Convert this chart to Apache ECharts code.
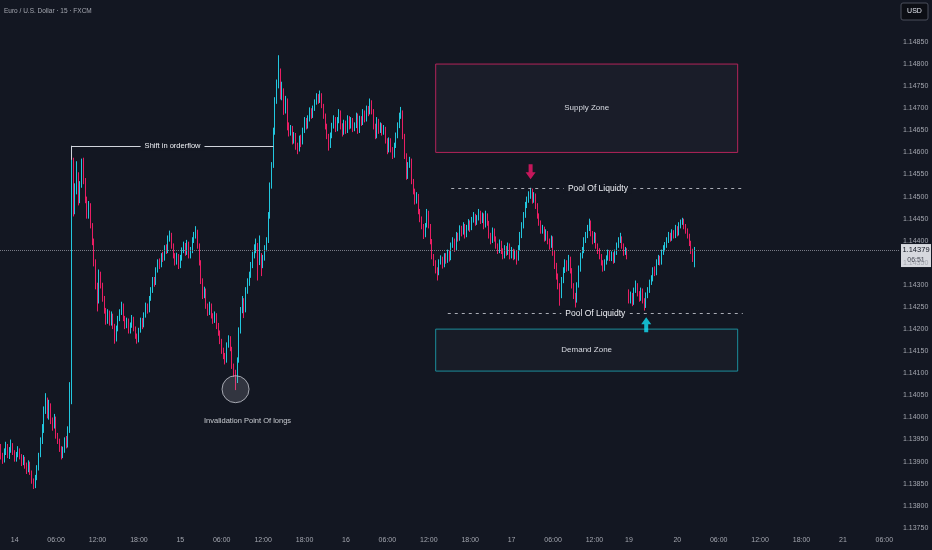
<!DOCTYPE html>
<html>
<head>
<meta charset="utf-8">
<script src="https://cdn.jsdelivr.net/npm/echarts@6/dist/echarts.min.js"></script>
<style>
html,body{margin:0;padding:0;background:#131722;}
#chart{width:932px;height:550px;}
</style>
</head>
<body>
<div id="chart"></div>
<script>
// ---------------- DATA (EUR/USD, 15 min, FXCM) ----------------
const title = 'Euro / U.S. Dollar · 15 · FXCM';
const firstOpen = 1.13925;      // open of the first visible candle
const sundayOpen = 1.14281;     // open of the first candle after the weekend gap
const countdown = '06:51';

const closes = [
1.13914,1.13903,1.13921,1.13932,1.13914,1.13925,1.13937,1.13921,1.13907,1.13914,
1.13925,1.13912,1.13898,1.13907,1.13891,1.13880,1.13896,1.13876,1.13857,1.13846,
1.13862,1.13885,1.13914,1.13948,1.13971,1.14016,1.14038,1.14005,1.14027,1.13993,
1.13982,1.13998,1.13959,1.13948,1.13930,1.13914,1.13925,1.13948,1.13937,1.13971,
1.14038,1.14563,1.14468,1.14513,1.14547,1.14491,1.14525,1.14554,1.14536,1.14491,
1.14457,1.14480,1.14434,1.14400,1.14351,1.14299,1.14265,1.14321,1.14299,1.14269,
1.14242,1.14219,1.14238,1.14215,1.14231,1.14208,1.14179,1.14201,1.14224,1.14238,
1.14253,1.14224,1.14208,1.14219,1.14197,1.14208,1.14224,1.14201,1.14186,1.14174,
1.14197,1.14219,1.14208,1.14231,1.14253,1.14242,1.14269,1.14287,1.14310,1.14305,
1.14333,1.14351,1.14344,1.14366,1.14360,1.14382,1.14378,1.14405,1.14412,1.14389,
1.14366,1.14351,1.14366,1.14344,1.14360,1.14378,1.14389,1.14373,1.14394,1.14366,
1.14378,1.14400,1.14412,1.14418,1.14389,1.14351,1.14310,1.14276,1.14287,1.14253,
1.14238,1.14253,1.14231,1.14219,1.14231,1.14208,1.14192,1.14174,1.14152,1.14140,
1.14129,1.14163,1.14179,1.14156,1.14118,1.14102,1.14084,1.14129,1.14197,1.14242,
1.14265,1.14242,1.14287,1.14305,1.14321,1.14344,1.14366,1.14378,1.14389,1.14351,
1.14366,1.14344,1.14360,1.14382,1.14400,1.14457,1.14525,1.14570,1.14649,1.14717,
1.14751,1.14774,1.14728,1.14740,1.14694,1.14717,1.14660,1.14645,1.14654,1.14627,
1.14638,1.14615,1.14608,1.14631,1.14622,1.14649,1.14672,1.14660,1.14676,1.14694,
1.14683,1.14699,1.14713,1.14726,1.14717,1.14728,1.14706,1.14683,1.14660,1.14638,
1.14615,1.14638,1.14660,1.14676,1.14654,1.14672,1.14690,1.14660,1.14645,1.14667,
1.14649,1.14676,1.14660,1.14672,1.14654,1.14660,1.14683,1.14649,1.14676,1.14667,
1.14690,1.14676,1.14699,1.14690,1.14713,1.14694,1.14660,1.14638,1.14672,1.14649,
1.14660,1.14645,1.14654,1.14627,1.14604,1.14627,1.14608,1.14593,1.14615,1.14638,
1.14660,1.14683,1.14690,1.14638,1.14593,1.14547,1.14570,1.14581,1.14536,1.14513,
1.14491,1.14502,1.14468,1.14450,1.14434,1.14412,1.14434,1.14464,1.14434,1.14400,
1.14366,1.14351,1.14333,1.14328,1.14351,1.14360,1.14344,1.14366,1.14355,1.14373,
1.14360,1.14389,1.14400,1.14382,1.14412,1.14405,1.14428,1.14418,1.14434,1.14412,
1.14428,1.14441,1.14428,1.14446,1.14457,1.14441,1.14450,1.14464,1.14446,1.14457,
1.14434,1.14457,1.14441,1.14412,1.14400,1.14423,1.14405,1.14389,1.14378,1.14396,
1.14378,1.14366,1.14382,1.14373,1.14389,1.14366,1.14378,1.14364,1.14373,1.14360,
1.14382,1.14412,1.14434,1.14457,1.14480,1.14491,1.14502,1.14509,1.14491,1.14502,
1.14480,1.14457,1.14441,1.14423,1.14428,1.14405,1.14418,1.14400,1.14389,1.14405,
1.14373,1.14344,1.14321,1.14299,1.14276,1.14310,1.14333,1.14351,1.14337,1.14360,
1.14333,1.14299,1.14276,1.14265,1.14299,1.14337,1.14366,1.14378,1.14400,1.14412,
1.14428,1.14441,1.14418,1.14400,1.14412,1.14389,1.14378,1.14366,1.14351,1.14337,
1.14351,1.14360,1.14373,1.14360,1.14369,1.14355,1.14373,1.14389,1.14400,1.14405,
1.14389,1.14373,1.14378,1.14366,1.14265,1.14276,1.14260,1.14287,1.14299,1.14281,
1.14269,1.14287,1.14265,1.14253,1.14276,1.14287,1.14305,1.14314,1.14333,1.14328,
1.14351,1.14360,1.14351,1.14373,1.14382,1.14389,1.14400,1.14412,1.14405,1.14418,
1.14412,1.14428,1.14418,1.14434,1.14441,1.14446,1.14434,1.14423,1.14412,1.14396,
1.14378,1.14360,1.14379
];

const highs = [
1.13940,1.13920,1.13930,1.13945,1.13940,1.13933,1.13950,1.13942,1.13926,1.13922,
1.13935,1.13930,1.13917,1.13915,1.13911,1.13898,1.13903,1.13900,1.13880,1.13862,
1.13870,1.13892,1.13920,1.13955,1.13985,1.14025,1.14055,1.14045,1.14040,1.14032,
1.14000,1.14008,1.14002,1.13965,1.13952,1.13935,1.13934,1.13955,1.13958,1.13980,
1.14080,1.14583,1.14588,1.14530,1.14580,1.14555,1.14535,1.14586,1.14588,1.14542,
1.14500,1.14490,1.14485,1.14440,1.14405,1.14358,1.14305,1.14335,1.14330,1.14305,
1.14275,1.14248,1.14245,1.14242,1.14240,1.14235,1.14212,1.14208,1.14230,1.14245,
1.14262,1.14258,1.14230,1.14226,1.14224,1.14215,1.14232,1.14228,1.14206,1.14190,
1.14203,1.14226,1.14225,1.14238,1.14260,1.14258,1.14275,1.14295,1.14318,1.14318,
1.14340,1.14358,1.14360,1.14372,1.14375,1.14390,1.14392,1.14412,1.14423,1.14418,
1.14394,1.14372,1.14373,1.14370,1.14368,1.14385,1.14398,1.14395,1.14402,1.14398,
1.14386,1.14408,1.14420,1.14433,1.14425,1.14394,1.14356,1.14315,1.14296,1.14292,
1.14258,1.14262,1.14258,1.14236,1.14240,1.14236,1.14214,1.14197,1.14178,1.14158,
1.14146,1.14170,1.14186,1.14184,1.14160,1.14122,1.14108,1.14136,1.14204,1.14250,
1.14275,1.14270,1.14295,1.14315,1.14330,1.14352,1.14375,1.14392,1.14405,1.14395,
1.14412,1.14372,1.14368,1.14390,1.14408,1.14465,1.14532,1.14578,1.14656,1.14725,
1.14765,1.14820,1.14790,1.14760,1.14745,1.14728,1.14722,1.14668,1.14662,1.14660,
1.14646,1.14644,1.14622,1.14638,1.14640,1.14656,1.14680,1.14678,1.14684,1.14702,
1.14700,1.14706,1.14720,1.14734,1.14732,1.14740,1.14734,1.14710,1.14688,1.14665,
1.14642,1.14645,1.14667,1.14684,1.14680,1.14680,1.14698,1.14695,1.14666,1.14674,
1.14672,1.14684,1.14682,1.14680,1.14678,1.14668,1.14690,1.14688,1.14683,1.14682,
1.14698,1.14695,1.14706,1.14705,1.14722,1.14718,1.14698,1.14665,1.14680,1.14676,
1.14668,1.14666,1.14662,1.14658,1.14632,1.14634,1.14632,1.14612,1.14622,1.14645,
1.14668,1.14690,1.14703,1.14695,1.14642,1.14598,1.14578,1.14590,1.14586,1.14540,
1.14518,1.14510,1.14506,1.14472,1.14455,1.14438,1.14440,1.14472,1.14468,1.14438,
1.14404,1.14370,1.14356,1.14340,1.14358,1.14367,1.14364,1.14372,1.14372,1.14380,
1.14378,1.14396,1.14408,1.14405,1.14420,1.14418,1.14435,1.14434,1.14442,1.14438,
1.14436,1.14449,1.14446,1.14454,1.14465,1.14461,1.14458,1.14472,1.14468,1.14464,
1.14462,1.14468,1.14462,1.14445,1.14418,1.14430,1.14428,1.14410,1.14394,1.14403,
1.14400,1.14383,1.14390,1.14388,1.14396,1.14394,1.14386,1.14382,1.14380,1.14378,
1.14390,1.14420,1.14442,1.14465,1.14488,1.14500,1.14512,1.14520,1.14518,1.14510,
1.14507,1.14485,1.14462,1.14446,1.14436,1.14432,1.14426,1.14422,1.14405,1.14412,
1.14410,1.14378,1.14350,1.14326,1.14304,1.14318,1.14340,1.14358,1.14356,1.14368,
1.14364,1.14338,1.14304,1.14282,1.14306,1.14344,1.14373,1.14386,1.14408,1.14420,
1.14436,1.14450,1.14446,1.14422,1.14420,1.14418,1.14394,1.14383,1.14370,1.14356,
1.14358,1.14367,1.14380,1.14378,1.14376,1.14374,1.14380,1.14396,1.14408,1.14418,
1.14410,1.14394,1.14386,1.14383,1.14290,1.14285,1.14282,1.14294,1.14310,1.14304,
1.14286,1.14294,1.14292,1.14270,1.14283,1.14295,1.14312,1.14322,1.14340,1.14342,
1.14358,1.14368,1.14366,1.14380,1.14390,1.14397,1.14408,1.14420,1.14418,1.14426,
1.14424,1.14436,1.14433,1.14442,1.14448,1.14452,1.14450,1.14438,1.14428,1.14416,
1.14400,1.14382,1.14386
];

const lows = [
1.13905,1.13895,1.13898,1.13915,1.13908,1.13906,1.13920,1.13915,1.13900,1.13900,
1.13910,1.13905,1.13890,1.13892,1.13884,1.13872,1.13876,1.13870,1.13850,1.13838,
1.13840,1.13858,1.13880,1.13910,1.13940,1.13965,1.14008,1.13998,1.13995,1.13985,
1.13970,1.13975,1.13952,1.13940,1.13922,1.13905,1.13908,1.13920,1.13930,1.13932,
1.13965,1.14030,1.14455,1.14460,1.14505,1.14480,1.14485,1.14520,1.14528,1.14485,
1.14450,1.14450,1.14428,1.14390,1.14342,1.14290,1.14240,1.14258,1.14292,1.14262,
1.14235,1.14210,1.14212,1.14208,1.14208,1.14200,1.14167,1.14172,1.14195,1.14218,
1.14232,1.14218,1.14200,1.14202,1.14190,1.14190,1.14203,1.14195,1.14178,1.14167,
1.14170,1.14192,1.14200,1.14204,1.14226,1.14235,1.14238,1.14264,1.14282,1.14296,
1.14300,1.14328,1.14336,1.14340,1.14352,1.14355,1.14370,1.14372,1.14398,1.14382,
1.14360,1.14344,1.14346,1.14336,1.14338,1.14355,1.14372,1.14366,1.14368,1.14360,
1.14360,1.14372,1.14395,1.14405,1.14382,1.14344,1.14302,1.14268,1.14270,1.14246,
1.14230,1.14232,1.14224,1.14212,1.14214,1.14200,1.14185,1.14166,1.14144,1.14132,
1.14120,1.14124,1.14158,1.14150,1.14110,1.14092,1.14062,1.14078,1.14124,1.14190,
1.14236,1.14225,1.14238,1.14280,1.14298,1.14316,1.14338,1.14360,1.14372,1.14310,
1.14345,1.14320,1.14338,1.14355,1.14376,1.14395,1.14450,1.14518,1.14565,1.14640,
1.14710,1.14745,1.14720,1.14718,1.14685,1.14688,1.14650,1.14636,1.14638,1.14618,
1.14620,1.14606,1.14596,1.14602,1.14612,1.14618,1.14644,1.14652,1.14654,1.14670,
1.14676,1.14678,1.14694,1.14708,1.14710,1.14712,1.14700,1.14676,1.14652,1.14630,
1.14604,1.14610,1.14632,1.14654,1.14646,1.14648,1.14666,1.14652,1.14636,1.14640,
1.14642,1.14644,1.14652,1.14654,1.14646,1.14648,1.14655,1.14642,1.14644,1.14660,
1.14662,1.14668,1.14670,1.14682,1.14686,1.14686,1.14652,1.14630,1.14632,1.14642,
1.14644,1.14638,1.14640,1.14620,1.14596,1.14600,1.14600,1.14585,1.14588,1.14610,
1.14632,1.14655,1.14676,1.14630,1.14585,1.14538,1.14540,1.14565,1.14528,1.14505,
1.14482,1.14484,1.14460,1.14442,1.14426,1.14404,1.14408,1.14430,1.14428,1.14392,
1.14358,1.14343,1.14326,1.14310,1.14322,1.14346,1.14337,1.14340,1.14348,1.14350,
1.14353,1.14356,1.14384,1.14375,1.14378,1.14398,1.14400,1.14410,1.14414,1.14405,
1.14408,1.14423,1.14420,1.14424,1.14441,1.14434,1.14436,1.14446,1.14438,1.14440,
1.14426,1.14430,1.14434,1.14405,1.14392,1.14395,1.14398,1.14382,1.14370,1.14372,
1.14370,1.14358,1.14360,1.14366,1.14368,1.14358,1.14360,1.14356,1.14358,1.14346,
1.14355,1.14378,1.14406,1.14428,1.14452,1.14474,1.14486,1.14495,1.14484,1.14486,
1.14472,1.14450,1.14434,1.14416,1.14416,1.14398,1.14400,1.14392,1.14380,1.14384,
1.14366,1.14336,1.14312,1.14290,1.14253,1.14270,1.14304,1.14327,1.14330,1.14332,
1.14326,1.14292,1.14268,1.14249,1.14260,1.14294,1.14330,1.14360,1.14372,1.14395,
1.14406,1.14422,1.14410,1.14392,1.14395,1.14382,1.14370,1.14358,1.14344,1.14330,
1.14332,1.14346,1.14355,1.14354,1.14354,1.14348,1.14350,1.14368,1.14384,1.14395,
1.14382,1.14366,1.14368,1.14358,1.14258,1.14258,1.14252,1.14255,1.14282,1.14274,
1.14262,1.14264,1.14258,1.14242,1.14248,1.14270,1.14282,1.14300,1.14308,1.14320,
1.14322,1.14345,1.14344,1.14346,1.14368,1.14376,1.14384,1.14395,1.14398,1.14400,
1.14405,1.14406,1.14410,1.14412,1.14428,1.14436,1.14426,1.14416,1.14405,1.14388,
1.14370,1.14352,1.14340
];

// Session timeline (New York time): day / hour
const sessionStart = [13, 22];
const weekendClose = [17, 17];
const weekendOpen  = [19, 17];
const axisEnd      = [21, 8];
const barMinutes = 15;

// Annotations (data coordinates: bar index, price)
const supplyZone = { name: 'Supply Zone', from: 252, to: 427, top: 1.14800, bottom: 1.14600 };
const demandZone = { name: 'Demand Zone', from: 252, to: 427, top: 1.14200, bottom: 1.14105 };
const upperPool  = { text: 'Pool Of Liquidty', from: 261, to: 431, level: 1.14519 };
const lowerPool  = { text: 'Pool Of Liquidty', from: 259, to: 430, level: 1.14235 };
const shiftLine  = { text: 'Shift in orderflow', from: 41, to: 158, level: 1.14615, candleHigh: 1.14583 };
const invalidation = { text: 'Invalidation Point Of longs', index: 136, price: 1.14064 };
const sellArrow = { index: 307, price: 1.14556 };
const buyArrow  = { index: 374, price: 1.14210 };

// ---------------- BUILD ----------------
const pad = n => (n < 10 ? '0' : '') + n;
const categories = [];
const catInfo = [];
{
  let d = sessionStart[0], m = sessionStart[1] * 60;
  while (true) {
    if (d === weekendClose[0] && m >= weekendClose[1] * 60) { d = weekendOpen[0]; m = weekendOpen[1] * 60; }
    const h = Math.floor(m / 60), mi = m % 60;
    categories.push(d + ' ' + pad(h) + ':' + pad(mi));
    catInfo.push({ d, h, mi });
    if (d === axisEnd[0] && m >= axisEnd[1] * 60) break;
    m += barMinutes;
    if (m >= 1440) { m -= 1440; d += 1; }
  }
}
const sundayIndex = categories.indexOf(weekendOpen[0] + ' ' + pad(weekendOpen[1]) + ':00');

const ohlc = closes.map((c, i) => {
  const o = i === 0 ? firstOpen : (i === sundayIndex ? sundayOpen : closes[i - 1]);
  return [o, c, Math.min(lows[i], o, c), Math.max(highs[i], o, c)];
});
const lastClose = closes[closes.length - 1];

const UP = '#22c7de', DOWN = '#e91e63';
const FONT = "'Liberation Sans',Arial,sans-serif";
const TXT = '#eef0f5', AXIS_TXT = '#a3a6af', BG = '#131722';

function isTick(i) {
  const c = catInfo[i];
  if (c.mi !== 0) return false;
  if (c.d === weekendOpen[0] && c.h === weekendOpen[1]) return true;
  if (c.d === weekendOpen[0]) return false;
  return c.h % 6 === 0;
}
function tickText(i) {
  const c = catInfo[i];
  if (c.h === 0 || (c.d === weekendOpen[0] && c.h === weekendOpen[1])) return String(c.d);
  return pad(c.h) + ':00';
}

const zoneLabel = { show: true, position: 'inside', color: '#d8dbe2', fontSize: 8, fontFamily: FONT };
const lineLabel = (text, size) => ({ show: true, position: 'middle', formatter: text, color: TXT, fontSize: size,
  fontFamily: FONT, backgroundColor: BG, padding: [1, 4], distance: 0, align: 'center', verticalAlign: 'middle' });

const chart = echarts.init(document.getElementById('chart'), null, { renderer: 'canvas' });
chart.setOption({
  backgroundColor: BG,
  animation: false,
  textStyle: { fontFamily: FONT },
  title: { text: title, left: 4, top: 8, padding: 0,
           textStyle: { color: '#a3a6af', fontSize: 6.5, fontWeight: 'normal', fontFamily: FONT } },
  grid: { left: 0, right: 33, top: 0, bottom: 0, containLabel: false, outerBoundsMode: 'none' },
  xAxis: {
    type: 'category', data: categories, boundaryGap: true,
    axisLine: { show: false }, axisTick: { show: false }, splitLine: { show: false },
    axisLabel: { inside: true, margin: 6, color: AXIS_TXT, fontSize: 7, fontFamily: FONT,
      interval: (i) => isTick(i), formatter: (v, i) => tickText(i) }
  },
  yAxis: {
    type: 'value', position: 'right', scale: true, min: 1.1370, max: 1.14945, interval: 0.0005,
    axisLine: { show: false }, axisTick: { show: false }, splitLine: { show: false },
    axisLabel: { margin: 4, color: AXIS_TXT, fontSize: 7, fontFamily: FONT,
      formatter: v => (v < 1.13745 || v > 1.14855) ? '' : v.toFixed(5) }
  },
  series: [
    {
      type: 'candlestick', data: ohlc, barWidth: 1,
      itemStyle: { color: UP, color0: DOWN, borderColor: UP, borderColor0: DOWN, borderWidth: 1 },
      markArea: {
        silent: true,
        data: [
          [{ name: supplyZone.name, coord: [supplyZone.from, supplyZone.top],
             itemStyle: { color: 'rgba(150,150,170,0.05)', borderColor: '#b2245a', borderWidth: 1 }, label: zoneLabel },
           { coord: [supplyZone.to, supplyZone.bottom] }],
          [{ name: demandZone.name, coord: [demandZone.from, demandZone.top],
             itemStyle: { color: 'rgba(150,150,170,0.04)', borderColor: '#1c8d9c', borderWidth: 1 }, label: zoneLabel },
           { coord: [demandZone.to, demandZone.bottom] }]
        ]
      },
      markLine: {
        silent: true, symbol: ['none', 'none'], precision: 5,
        data: [
          [{ coord: [shiftLine.from, shiftLine.level], lineStyle: { type: 'solid', color: '#d1d4dc', width: 1 },
             label: lineLabel(shiftLine.text, 7.5) },
           { coord: [shiftLine.to, shiftLine.level] }],
          [{ coord: [shiftLine.from, shiftLine.candleHigh], lineStyle: { type: 'solid', color: '#d1d4dc', width: 1 }, label: { show: false } },
           { coord: [shiftLine.from, shiftLine.level] }],
          [{ coord: [upperPool.from, upperPool.level], lineStyle: { type: [3, 4], color: '#a9acb5', width: 1 },
             label: lineLabel(upperPool.text, 8.5) },
           { coord: [upperPool.to, upperPool.level] }],
          [{ coord: [lowerPool.from, lowerPool.level], lineStyle: { type: [3, 4], color: '#a9acb5', width: 1 },
             label: lineLabel(lowerPool.text, 8.5) },
           { coord: [lowerPool.to, lowerPool.level] }]
        ]
      }
    },
    {
      type: 'scatter', silent: true, z: 5,
      markLine: {
        silent: true, symbol: ['none', 'none'], precision: 5,
        data: [{ yAxis: lastClose, lineStyle: { type: 'dotted', color: '#787b86', width: 1 }, label: { show: false } }]
      },
      data: [
        { value: [invalidation.index, invalidation.price], symbol: 'circle', symbolSize: 27,
          itemStyle: { color: 'rgba(160,163,172,0.28)', borderColor: '#c3c6ce', borderWidth: 1 },
          label: { show: true, position: 'bottom', distance: 14, offset: [12, 0], formatter: invalidation.text,
                   color: TXT, fontSize: 7.5, fontFamily: FONT } },
        { value: [sellArrow.index, sellArrow.price], symbol: 'path://M3,0L7,0L7,8L10,8L5,15L0,8L3,8Z',
          symbolSize: [10, 15], itemStyle: { color: '#f2186a' } },
        { value: [buyArrow.index, buyArrow.price], symbol: 'path://M5,0L10,7L7,7L7,15L3,15L3,7L0,7Z',
          symbolSize: [10, 15], itemStyle: { color: '#14e0f5' } }
      ]
    }
  ]
});

// price tag on the right scale + currency button
const yPix = chart.convertToPixel({ yAxisIndex: 0 }, lastClose);
chart.setOption({
  graphic: [
    { type: 'rect', shape: { x: 901, y: 3, width: 27, height: 17, r: 2 }, style: { fill: '#0c0e14', stroke: '#4a4e5a', lineWidth: 1 } },
    { type: 'text', x: 914.5, y: 11.5, style: { text: 'USD', fill: '#e0e3eb', fontSize: 7, fontFamily: FONT, align: 'center', verticalAlign: 'middle' } },
    { type: 'rect', shape: { x: 901, y: yPix - 6, width: 30, height: 23 }, style: { fill: '#d6d8de' } },
    { type: 'text', x: 916, y: yPix, style: { text: lastClose.toFixed(5), fill: '#131722', fontSize: 7.5, fontFamily: FONT, align: 'center', verticalAlign: 'middle' } },
    { type: 'text', x: 916, y: yPix + 10, style: { text: countdown, fill: '#434651', fontSize: 7, fontFamily: FONT, align: 'center', verticalAlign: 'middle' } }
  ]
});
</script>
</body>
</html>
